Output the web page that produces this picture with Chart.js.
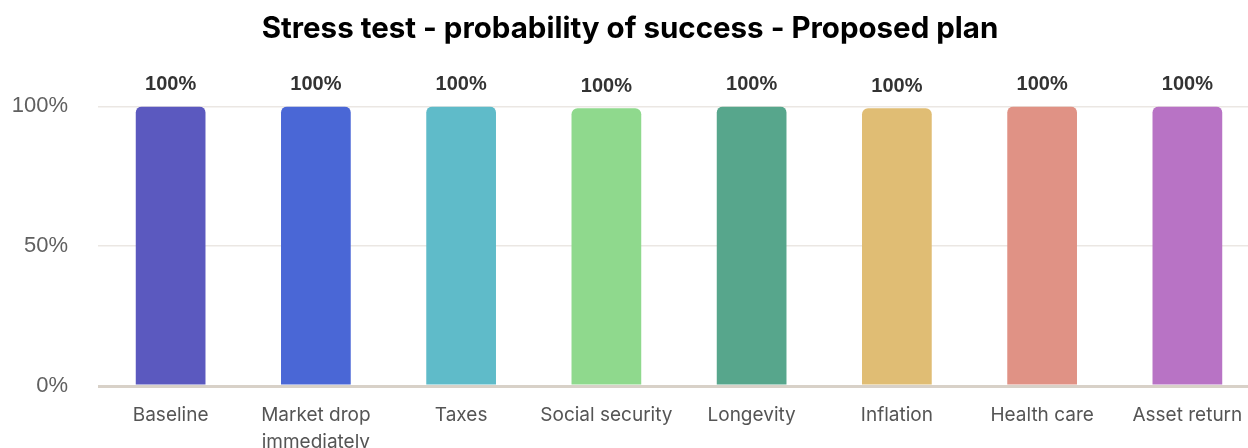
<!DOCTYPE html>
<html>
<head>
<meta charset="utf-8">
<script src="https://cdn.jsdelivr.net/npm/chart.js@4"></script>
<style>
  html, body { margin: 0; padding: 0; background: #fff; overflow: hidden; width: 1248px; height: 448px; }
  #wrap { position: relative; width: 1262px; height: 472px; }
</style>
</head>
<body>
<div id="wrap"><canvas id="c"></canvas></div>
<script>
const categories = [["Baseline"], ["Market drop", "immediately"], ["Taxes"], ["Social security"], ["Longevity"], ["Inflation"], ["Health care"], ["Asset return"]];
const successPct = [100, 100, 100, 99.3, 100, 99.3, 100, 100];
const valueLabels = ["100%", "100%", "100%", "100%", "100%", "100%", "100%", "100%"];
const barColors = ["#5b59bf", "#4a67d6", "#5fbbc9", "#8fd98d", "#57a68c", "#e0bd74", "#e09285", "#b873c5"];
const yTicks = [0, 50, 100];

const valueLabelPlugin = {
  id: 'valueLabels',
  afterDatasetsDraw(chart) {
    const ctx = chart.ctx;
    const meta = chart.getDatasetMeta(0);
    ctx.save();
    ctx.font = 'bold 20px "Liberation Sans", Arial, sans-serif';
    ctx.fillStyle = '#333333';
    ctx.textAlign = 'center';
    ctx.textBaseline = 'alphabetic';
    meta.data.forEach((bar, i) => {
      ctx.fillText(valueLabels[i], bar.x, bar.y - 16);
    });
    ctx.restore();
  }
};

new Chart(document.getElementById('c'), {
  type: 'bar',
  data: {
    labels: categories,
    datasets: [{
      data: successPct,
      backgroundColor: barColors,
      borderRadius: { topLeft: 6, topRight: 6, bottomLeft: 0, bottomRight: 0 },
      borderSkipped: 'bottom',
      categoryPercentage: 1,
      barPercentage: 0.48
    }]
  },
  options: {
    responsive: true,
    maintainAspectRatio: false,
    animation: false,
    layout: { padding: { left: 0, right: 2, top: 0, bottom: 0 } },
    plugins: {
      legend: { display: false },
      tooltip: { enabled: false },
      title: {
        display: true,
        text: 'Stress test - probability of success - Proposed plan',
        color: '#000000',
        font: { family: 'Inter, "Noto Sans", sans-serif', size: 29.5, weight: '700' },
        padding: { top: 11, bottom: 60 }
      }
    },
    scales: {
      x: {
        grid: { display: false, drawTicks: false },
        border: { display: false },
        ticks: {
          color: '#555555',
          font: { family: 'Inter, "Noto Sans", sans-serif', size: 19, lineHeight: 1.42 },
          padding: 16,
          maxRotation: 0,
          autoSkip: false
        }
      },
      y: {
        min: 0,
        max: 100,
        afterBuildTicks(axis) { axis.ticks = yTicks.map(v => ({ value: v })); },
        afterFit(axis) { axis.width = 98; },
        grid: {
          drawTicks: false,
          color: ctx => ctx.tick && ctx.tick.value === 0 ? '#d8d1c8' : '#ebe7e3',
          lineWidth: ctx => ctx.tick && ctx.tick.value === 0 ? 3 : 1.5
        },
        border: { display: false },
        ticks: {
          color: '#606060',
          font: { family: '"Liberation Sans", Arial, sans-serif', size: 22 },
          padding: 30,
          callback: v => v + '%'
        }
      }
    }
  },
  plugins: [valueLabelPlugin]
});
</script>
</body>
</html>
